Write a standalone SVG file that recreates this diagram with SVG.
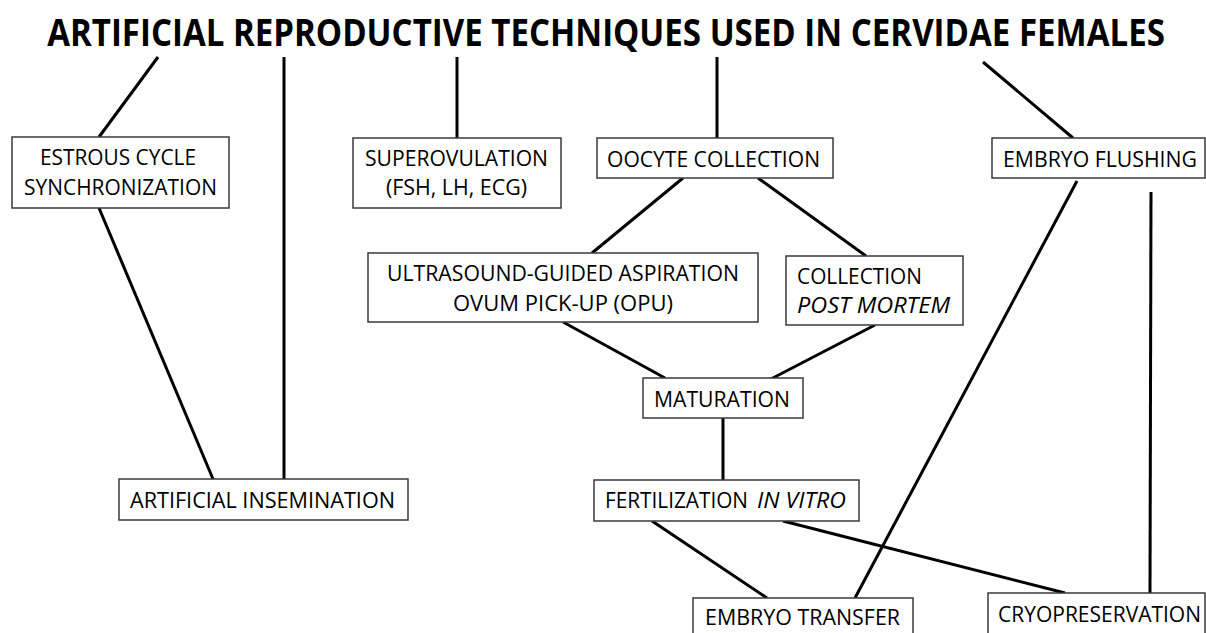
<svg xmlns="http://www.w3.org/2000/svg" width="1206" height="633" viewBox="0 0 1206 633">
<style>
.box{fill:#fff;stroke:#3a3a3a;stroke-width:1.5}
.t{font-family:"Open Sans","Noto Sans",sans-serif;font-size:21px;fill:#000}
.i{font-style:italic}
.title{font-family:"Open Sans","Noto Sans",sans-serif;font-size:37px;font-weight:bold;fill:#000}
.c line{stroke:#000;stroke-width:3;stroke-linecap:butt}
</style>
<rect width="1206" height="633" fill="#fff"/>
<text class="title" transform="translate(606,46) scale(0.85,1)" x="0" y="0" text-anchor="middle" textLength="1315" lengthAdjust="spacingAndGlyphs">ARTIFICIAL REPRODUCTIVE TECHNIQUES USED IN CERVIDAE FEMALES</text>
<g class="c" id="connectors">
<line x1="158" y1="57" x2="99" y2="137"/>
<line x1="284" y1="57" x2="284" y2="479"/>
<line x1="99" y1="208" x2="213" y2="479"/>
<line x1="457" y1="57" x2="457" y2="138"/>
<line x1="717" y1="57" x2="717" y2="138"/>
<line x1="983" y1="62" x2="1073" y2="138"/>
<line x1="683" y1="178" x2="592" y2="253"/>
<line x1="758" y1="178" x2="866" y2="256"/>
<line x1="563" y1="322" x2="665" y2="378"/>
<line x1="875" y1="325" x2="769" y2="380"/>
<line x1="723" y1="418" x2="723" y2="480"/>
<line x1="652" y1="521" x2="767" y2="598"/>
<line x1="783" y1="521" x2="1065" y2="593"/>
<line x1="1077" y1="181" x2="855" y2="598"/>
<line x1="1151" y1="192" x2="1150" y2="593"/>
</g>
<g id="estrous">
<rect class="box" x="12" y="137" width="217" height="71"/>
<text class="t" x="40" y="165" textLength="156" lengthAdjust="spacingAndGlyphs">ESTROUS CYCLE</text>
<text class="t" x="24" y="195" textLength="193" lengthAdjust="spacingAndGlyphs">SYNCHRONIZATION</text>
</g>
<g id="superovulation">
<rect class="box" x="353" y="138" width="208" height="70"/>
<text class="t" x="365" y="166" textLength="183" lengthAdjust="spacingAndGlyphs">SUPEROVULATION</text>
<text class="t" x="386" y="195" textLength="141" lengthAdjust="spacingAndGlyphs">(FSH, LH, ECG)</text>
</g>
<g id="oocyte">
<rect class="box" x="597" y="138" width="236" height="40"/>
<text class="t" x="607" y="167" textLength="213" lengthAdjust="spacingAndGlyphs">OOCYTE COLLECTION</text>
</g>
<g id="flushing">
<rect class="box" x="992" y="138" width="213" height="40"/>
<text class="t" x="1003" y="167" textLength="194" lengthAdjust="spacingAndGlyphs">EMBRYO FLUSHING</text>
</g>
<g id="opu">
<rect class="box" x="368" y="253" width="390" height="69"/>
<text class="t" x="387" y="281" textLength="352" lengthAdjust="spacingAndGlyphs">ULTRASOUND-GUIDED ASPIRATION</text>
<text class="t" x="453" y="311" textLength="220" lengthAdjust="spacingAndGlyphs">OVUM PICK-UP (OPU)</text>
</g>
<g id="postmortem">
<rect class="box" x="786" y="256" width="177" height="69"/>
<text class="t" x="797" y="284" textLength="125" lengthAdjust="spacingAndGlyphs">COLLECTION</text>
<text class="t i" x="797" y="313" textLength="153" lengthAdjust="spacingAndGlyphs">POST MORTEM</text>
</g>
<g id="maturation">
<rect class="box" x="643" y="378" width="160" height="40"/>
<text class="t" x="654" y="407" textLength="136" lengthAdjust="spacingAndGlyphs">MATURATION</text>
</g>
<g id="insemination">
<rect class="box" x="119" y="479" width="289" height="41"/>
<text class="t" x="130" y="508" textLength="265" lengthAdjust="spacingAndGlyphs">ARTIFICIAL INSEMINATION</text>
</g>
<g id="fertilization">
<rect class="box" x="594" y="480" width="265" height="41"/>
<text class="t" x="605" y="508" textLength="143" lengthAdjust="spacingAndGlyphs">FERTILIZATION</text>
<text class="t i" x="757" y="508" textLength="89" lengthAdjust="spacingAndGlyphs">IN VITRO</text>
</g>
<g id="transfer">
<rect class="box" x="693" y="598" width="220" height="45"/>
<text class="t" x="705" y="625" textLength="195" lengthAdjust="spacingAndGlyphs">EMBRYO TRANSFER</text>
</g>
<g id="cryo">
<rect class="box" x="988" y="593" width="217" height="50"/>
<text class="t" x="998" y="622" textLength="203" lengthAdjust="spacingAndGlyphs">CRYOPRESERVATION</text>
</g>
</svg>
